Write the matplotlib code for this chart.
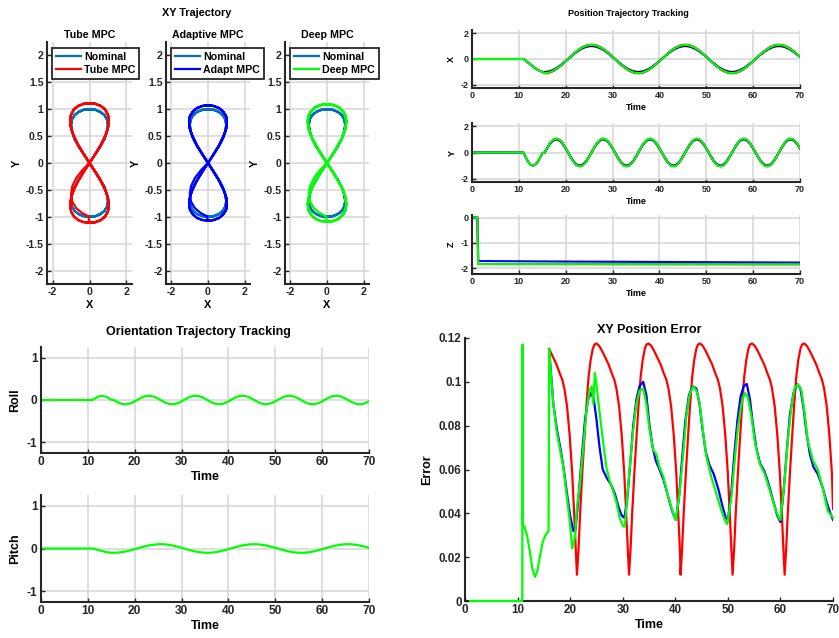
import numpy as np
import matplotlib
matplotlib.use("Agg")
import matplotlib.pyplot as plt
from matplotlib.ticker import FuncFormatter

plt.rcParams['font.family'] = ['Liberation Sans', 'DejaVu Sans']
plt.rcParams['font.weight'] = 'bold'
plt.rcParams['axes.labelweight'] = 'bold'
plt.rcParams['axes.unicode_minus'] = False

# ---------------- data ----------------
# sample times: hover sample at t=0, then every 0.5 s from 11 s to 70 s
t_track = np.concatenate([[0.0], np.arange(11.0, 70.25, 0.5)])   # 120 samples
t_nom = np.arange(15.5, 70.25, 0.5)                                # 110 samples

pos_x_nom = [
    -1.00, -0.99, -0.95, -0.89, -0.81, -0.71, -0.59, -0.45, -0.31, -0.16,
    0.00, 0.16, 0.31, 0.45, 0.59, 0.71, 0.81, 0.89, 0.95, 0.99,
    1.00, 0.99, 0.95, 0.89, 0.81, 0.71, 0.59, 0.45, 0.31, 0.16,
    0.00, -0.16, -0.31, -0.45, -0.59, -0.71, -0.81, -0.89, -0.95, -0.99,
    -1.00, -0.99, -0.95, -0.89, -0.81, -0.71, -0.59, -0.45, -0.31, -0.16,
    0.00, 0.16, 0.31, 0.45, 0.59, 0.71, 0.81, 0.89, 0.95, 0.99,
    1.00, 0.99, 0.95, 0.89, 0.81, 0.71, 0.59, 0.45, 0.31, 0.16,
    0.00, -0.16, -0.31, -0.45, -0.59, -0.71, -0.81, -0.89, -0.95, -0.99,
    -1.00, -0.99, -0.95, -0.89, -0.81, -0.71, -0.59, -0.45, -0.31, -0.16,
    0.00, 0.16, 0.31, 0.45, 0.59, 0.71, 0.81, 0.89, 0.95, 0.99,
    1.00, 0.99, 0.95, 0.89, 0.81, 0.71, 0.59, 0.45, 0.31, 0.16,
]
pos_x_tube = [
    0.00, 0.00, -0.13, -0.28, -0.43, -0.58, -0.72, -0.84, -0.93, -0.99,
    -1.11, -1.10, -1.06, -0.99, -0.90, -0.78, -0.65, -0.50, -0.34, -0.17,
    0.00, 0.17, 0.34, 0.50, 0.65, 0.78, 0.90, 0.99, 1.06, 1.10,
    1.11, 1.10, 1.06, 0.99, 0.90, 0.78, 0.65, 0.50, 0.34, 0.17,
    0.00, -0.17, -0.34, -0.50, -0.65, -0.78, -0.90, -0.99, -1.06, -1.10,
    -1.11, -1.10, -1.06, -0.99, -0.90, -0.78, -0.65, -0.50, -0.34, -0.17,
    0.00, 0.17, 0.34, 0.50, 0.65, 0.78, 0.90, 0.99, 1.06, 1.10,
    1.11, 1.10, 1.06, 0.99, 0.90, 0.78, 0.65, 0.50, 0.34, 0.17,
    0.00, -0.17, -0.34, -0.50, -0.65, -0.78, -0.90, -0.99, -1.06, -1.10,
    -1.11, -1.10, -1.06, -0.99, -0.90, -0.78, -0.65, -0.50, -0.34, -0.17,
    0.00, 0.17, 0.34, 0.50, 0.65, 0.78, 0.90, 0.99, 1.06, 1.10,
    1.11, 1.10, 1.06, 0.99, 0.90, 0.78, 0.65, 0.50, 0.34, 0.17,
]
pos_x_adapt = [
    0.00, 0.00, -0.13, -0.28, -0.43, -0.58, -0.72, -0.84, -0.93, -0.99,
    -1.07, -1.06, -1.02, -0.95, -0.87, -0.76, -0.63, -0.49, -0.33, -0.17,
    0.00, 0.17, 0.33, 0.49, 0.63, 0.76, 0.87, 0.95, 1.02, 1.06,
    1.07, 1.06, 1.02, 0.95, 0.87, 0.76, 0.63, 0.49, 0.33, 0.17,
    0.00, -0.17, -0.33, -0.49, -0.63, -0.76, -0.87, -0.95, -1.02, -1.06,
    -1.07, -1.06, -1.02, -0.95, -0.87, -0.76, -0.63, -0.49, -0.33, -0.17,
    0.00, 0.17, 0.33, 0.49, 0.63, 0.76, 0.87, 0.95, 1.02, 1.06,
    1.07, 1.06, 1.02, 0.95, 0.87, 0.76, 0.63, 0.49, 0.33, 0.17,
    0.00, -0.17, -0.33, -0.49, -0.63, -0.76, -0.87, -0.95, -1.02, -1.06,
    -1.07, -1.06, -1.02, -0.95, -0.87, -0.76, -0.63, -0.49, -0.33, -0.17,
    0.00, 0.17, 0.33, 0.49, 0.63, 0.76, 0.87, 0.95, 1.02, 1.06,
    1.07, 1.06, 1.02, 0.95, 0.87, 0.76, 0.63, 0.49, 0.33, 0.17,
]
pos_x_deep = [
    0.00, 0.00, -0.13, -0.28, -0.43, -0.58, -0.72, -0.84, -0.93, -0.99,
    -1.09, -1.08, -1.04, -0.97, -0.88, -0.77, -0.64, -0.49, -0.34, -0.17,
    0.00, 0.17, 0.34, 0.49, 0.64, 0.77, 0.88, 0.97, 1.04, 1.08,
    1.09, 1.08, 1.04, 0.97, 0.88, 0.77, 0.64, 0.49, 0.34, 0.17,
    0.00, -0.17, -0.34, -0.49, -0.64, -0.77, -0.88, -0.97, -1.04, -1.08,
    -1.09, -1.08, -1.04, -0.97, -0.88, -0.77, -0.64, -0.49, -0.34, -0.17,
    0.00, 0.17, 0.34, 0.49, 0.64, 0.77, 0.88, 0.97, 1.04, 1.08,
    1.09, 1.08, 1.04, 0.97, 0.88, 0.77, 0.64, 0.49, 0.34, 0.17,
    0.00, -0.17, -0.34, -0.49, -0.64, -0.77, -0.88, -0.97, -1.04, -1.08,
    -1.09, -1.08, -1.04, -0.97, -0.88, -0.77, -0.64, -0.49, -0.34, -0.17,
    0.00, 0.17, 0.34, 0.49, 0.64, 0.77, 0.88, 0.97, 1.04, 1.08,
    1.09, 1.08, 1.04, 0.97, 0.88, 0.77, 0.64, 0.49, 0.34, 0.17,
]

pos_y_nom = [
    0.00, 0.31, 0.59, 0.81, 0.95, 1.00, 0.95, 0.81, 0.59, 0.31,
    0.00, -0.31, -0.59, -0.81, -0.95, -1.00, -0.95, -0.81, -0.59, -0.31,
    0.00, 0.31, 0.59, 0.81, 0.95, 1.00, 0.95, 0.81, 0.59, 0.31,
    0.00, -0.31, -0.59, -0.81, -0.95, -1.00, -0.95, -0.81, -0.59, -0.31,
    0.00, 0.31, 0.59, 0.81, 0.95, 1.00, 0.95, 0.81, 0.59, 0.31,
    0.00, -0.31, -0.59, -0.81, -0.95, -1.00, -0.95, -0.81, -0.59, -0.31,
    0.00, 0.31, 0.59, 0.81, 0.95, 1.00, 0.95, 0.81, 0.59, 0.31,
    0.00, -0.31, -0.59, -0.81, -0.95, -1.00, -0.95, -0.81, -0.59, -0.31,
    0.00, 0.31, 0.59, 0.81, 0.95, 1.00, 0.95, 0.81, 0.59, 0.31,
    0.00, -0.31, -0.59, -0.81, -0.95, -1.00, -0.95, -0.81, -0.59, -0.31,
    0.00, 0.31, 0.59, 0.81, 0.95, 1.00, 0.95, 0.81, 0.59, 0.31,
]
pos_y_tube = [
    0.00, 0.00, -0.38, -0.72, -0.93, -1.00, -0.93, -0.72, -0.40, -0.06,
    0.00, 0.32, 0.62, 0.85, 1.00, 1.05, 1.00, 0.85, 0.62, 0.32,
    0.00, -0.32, -0.62, -0.85, -1.00, -1.05, -1.00, -0.85, -0.62, -0.32,
    0.00, 0.32, 0.62, 0.85, 1.00, 1.05, 1.00, 0.85, 0.62, 0.32,
    0.00, -0.32, -0.62, -0.85, -1.00, -1.05, -1.00, -0.85, -0.62, -0.32,
    0.00, 0.32, 0.62, 0.85, 1.00, 1.05, 1.00, 0.85, 0.62, 0.32,
    0.00, -0.32, -0.62, -0.85, -1.00, -1.05, -1.00, -0.85, -0.62, -0.32,
    0.00, 0.32, 0.62, 0.85, 1.00, 1.05, 1.00, 0.85, 0.62, 0.32,
    0.00, -0.32, -0.62, -0.85, -1.00, -1.05, -1.00, -0.85, -0.62, -0.32,
    0.00, 0.32, 0.62, 0.85, 1.00, 1.05, 1.00, 0.85, 0.62, 0.32,
    0.00, -0.32, -0.62, -0.85, -1.00, -1.05, -1.00, -0.85, -0.62, -0.32,
    0.00, 0.32, 0.62, 0.85, 1.00, 1.05, 1.00, 0.85, 0.62, 0.32,
]
pos_y_adapt = [
    0.00, 0.00, -0.38, -0.72, -0.93, -1.00, -0.93, -0.72, -0.40, -0.06,
    0.00, 0.32, 0.61, 0.84, 0.99, 1.04, 0.99, 0.84, 0.61, 0.32,
    0.00, -0.32, -0.61, -0.84, -0.99, -1.04, -0.99, -0.84, -0.61, -0.32,
    0.00, 0.32, 0.61, 0.84, 0.99, 1.04, 0.99, 0.84, 0.61, 0.32,
    0.00, -0.32, -0.61, -0.84, -0.99, -1.04, -0.99, -0.84, -0.61, -0.32,
    0.00, 0.32, 0.61, 0.84, 0.99, 1.04, 0.99, 0.84, 0.61, 0.32,
    0.00, -0.32, -0.61, -0.84, -0.99, -1.04, -0.99, -0.84, -0.61, -0.32,
    0.00, 0.32, 0.61, 0.84, 0.99, 1.04, 0.99, 0.84, 0.61, 0.32,
    0.00, -0.32, -0.61, -0.84, -0.99, -1.04, -0.99, -0.84, -0.61, -0.32,
    0.00, 0.32, 0.61, 0.84, 0.99, 1.04, 0.99, 0.84, 0.61, 0.32,
    0.00, -0.32, -0.61, -0.84, -0.99, -1.04, -0.99, -0.84, -0.61, -0.32,
    0.00, 0.32, 0.61, 0.84, 0.99, 1.04, 0.99, 0.84, 0.61, 0.32,
]
pos_y_deep = [
    0.00, 0.00, -0.38, -0.72, -0.93, -1.00, -0.93, -0.72, -0.40, -0.06,
    0.00, 0.33, 0.62, 0.86, 1.01, 1.06, 1.01, 0.86, 0.62, 0.33,
    0.00, -0.33, -0.62, -0.86, -1.01, -1.06, -1.01, -0.86, -0.62, -0.33,
    0.00, 0.33, 0.62, 0.86, 1.01, 1.06, 1.01, 0.86, 0.62, 0.33,
    0.00, -0.33, -0.62, -0.86, -1.01, -1.06, -1.01, -0.86, -0.62, -0.33,
    0.00, 0.33, 0.62, 0.86, 1.01, 1.06, 1.01, 0.86, 0.62, 0.33,
    0.00, -0.33, -0.62, -0.86, -1.01, -1.06, -1.01, -0.86, -0.62, -0.33,
    0.00, 0.33, 0.62, 0.86, 1.01, 1.06, 1.01, 0.86, 0.62, 0.33,
    0.00, -0.33, -0.62, -0.86, -1.01, -1.06, -1.01, -0.86, -0.62, -0.33,
    0.00, 0.33, 0.62, 0.86, 1.01, 1.06, 1.01, 0.86, 0.62, 0.33,
    0.00, -0.33, -0.62, -0.86, -1.01, -1.06, -1.01, -0.86, -0.62, -0.33,
    0.00, 0.33, 0.62, 0.86, 1.01, 1.06, 1.01, 0.86, 0.62, 0.33,
]

# altitude (sparse samples)
z_t_tube = [0.0, 1.15, 1.3, 70.0]
z_tube = [0.0, 0.0, -1.83, -1.84]
z_t_adapt = [0.0, 1.15, 1.35, 20.0, 45.0, 70.0]
z_adapt = [0.0, 0.0, -1.71, -1.73, -1.75, -1.77]
z_t_deep = [0.0, 1.15, 1.3, 70.0]
z_deep = [0.0, 0.0, -1.83, -1.84]

roll_deep = [
    0.000, 0.000, 0.036, 0.069, 0.089, 0.095, 0.089, 0.069, 0.038, 0.006,
    0.000, -0.031, -0.059, -0.081, -0.095, -0.100, -0.095, -0.081, -0.059, -0.031,
    0.000, 0.031, 0.059, 0.081, 0.095, 0.100, 0.095, 0.081, 0.059, 0.031,
    0.000, -0.031, -0.059, -0.081, -0.095, -0.100, -0.095, -0.081, -0.059, -0.031,
    0.000, 0.031, 0.059, 0.081, 0.095, 0.100, 0.095, 0.081, 0.059, 0.031,
    0.000, -0.031, -0.059, -0.081, -0.095, -0.100, -0.095, -0.081, -0.059, -0.031,
    0.000, 0.031, 0.059, 0.081, 0.095, 0.100, 0.095, 0.081, 0.059, 0.031,
    0.000, -0.031, -0.059, -0.081, -0.095, -0.100, -0.095, -0.081, -0.059, -0.031,
    0.000, 0.031, 0.059, 0.081, 0.095, 0.100, 0.095, 0.081, 0.059, 0.031,
    0.000, -0.031, -0.059, -0.081, -0.095, -0.100, -0.095, -0.081, -0.059, -0.031,
    0.000, 0.031, 0.059, 0.081, 0.095, 0.100, 0.095, 0.081, 0.059, 0.031,
    0.000, -0.031, -0.059, -0.081, -0.095, -0.100, -0.095, -0.081, -0.059, -0.031,
]
pitch_deep = [
    0.000, 0.000, -0.013, -0.028, -0.043, -0.058, -0.072, -0.084, -0.093, -0.099,
    -0.100, -0.099, -0.095, -0.089, -0.081, -0.071, -0.059, -0.045, -0.031, -0.016,
    0.000, 0.016, 0.031, 0.045, 0.059, 0.071, 0.081, 0.089, 0.095, 0.099,
    0.100, 0.099, 0.095, 0.089, 0.081, 0.071, 0.059, 0.045, 0.031, 0.016,
    0.000, -0.016, -0.031, -0.045, -0.059, -0.071, -0.081, -0.089, -0.095, -0.099,
    -0.100, -0.099, -0.095, -0.089, -0.081, -0.071, -0.059, -0.045, -0.031, -0.016,
    0.000, 0.016, 0.031, 0.045, 0.059, 0.071, 0.081, 0.089, 0.095, 0.099,
    0.100, 0.099, 0.095, 0.089, 0.081, 0.071, 0.059, 0.045, 0.031, 0.016,
    0.000, -0.016, -0.031, -0.045, -0.059, -0.071, -0.081, -0.089, -0.095, -0.099,
    -0.100, -0.099, -0.095, -0.089, -0.081, -0.071, -0.059, -0.045, -0.031, -0.016,
    0.000, 0.016, 0.031, 0.045, 0.059, 0.071, 0.081, 0.089, 0.095, 0.099,
    0.100, 0.099, 0.095, 0.089, 0.081, 0.071, 0.059, 0.045, 0.031, 0.016,
]

# XY position error
err_t_tube = [
    16.0, 16.2, 16.8, 17.4, 18.0, 18.5, 18.9, 19.4, 19.9, 20.4, 20.8, 21.1,
    21.3, 21.6, 21.9, 22.3, 22.7, 23.1, 23.5, 23.9, 24.3, 24.6, 25.0, 25.5,
    26.1, 26.7, 27.3, 27.9, 28.4, 28.8, 29.3, 29.8, 30.3, 30.7, 31.0,
    31.2, 31.5, 31.8, 32.2, 32.6, 33.0, 33.4, 33.8, 34.2, 34.5, 34.9, 35.4,
    36.0, 36.6, 37.2, 37.8, 38.3, 38.7, 39.2, 39.7, 40.2, 40.6, 40.9,
    41.0, 41.3, 41.6, 42.0, 42.4, 42.8, 43.2, 43.6, 44.0, 44.3, 44.7, 45.2,
    45.8, 46.4, 47.0, 47.6, 48.1, 48.5, 49.0, 49.5, 50.0, 50.4, 50.7,
    50.9, 51.2, 51.5, 51.9, 52.3, 52.7, 53.1, 53.5, 53.9, 54.2, 54.6, 55.1,
    55.7, 56.3, 56.9, 57.5, 58.0, 58.4, 58.9, 59.4, 59.9, 60.3, 60.6,
    60.8, 61.1, 61.4, 61.8, 62.2, 62.6, 63.0, 63.4, 63.8, 64.1, 64.5, 65.0,
    65.6, 66.2, 66.8, 67.4, 67.9, 68.3, 68.8, 69.3, 69.8, 70.0,
]
err_tube = [
    0.115, 0.114, 0.111, 0.108, 0.104, 0.101, 0.097, 0.089, 0.076, 0.058, 0.038, 0.022,
    0.012, 0.024, 0.040, 0.058, 0.074, 0.089, 0.102, 0.110, 0.115, 0.117, 0.1175, 0.1165,
    0.114, 0.111, 0.108, 0.104, 0.101, 0.097, 0.089, 0.076, 0.058, 0.038, 0.022,
    0.012, 0.024, 0.040, 0.058, 0.074, 0.089, 0.102, 0.110, 0.115, 0.117, 0.1175, 0.1165,
    0.114, 0.111, 0.108, 0.104, 0.101, 0.097, 0.089, 0.076, 0.058, 0.038, 0.022,
    0.012, 0.024, 0.040, 0.058, 0.074, 0.089, 0.102, 0.110, 0.115, 0.117, 0.1175, 0.1165,
    0.114, 0.111, 0.108, 0.104, 0.101, 0.097, 0.089, 0.076, 0.058, 0.038, 0.022,
    0.012, 0.024, 0.040, 0.058, 0.074, 0.089, 0.102, 0.110, 0.115, 0.117, 0.1175, 0.1165,
    0.114, 0.111, 0.108, 0.104, 0.101, 0.097, 0.089, 0.076, 0.058, 0.038, 0.022,
    0.012, 0.024, 0.040, 0.058, 0.074, 0.089, 0.102, 0.110, 0.115, 0.117, 0.1175, 0.1165,
    0.114, 0.111, 0.108, 0.104, 0.101, 0.097, 0.089, 0.076, 0.058, 0.042,
]
err_t_adapt = [
    16.0, 16.8, 17.5, 18.2, 18.8, 19.4, 20.0, 20.6, 21.0, 21.5,
    22.2, 22.8, 23.4, 24.0, 24.5, 25.0, 25.6, 26.2, 27.0, 27.8,
    28.5, 29.2, 29.8, 30.3, 30.8, 31.4, 32.0, 32.6, 33.2, 33.9,
    34.5, 35.1, 35.7, 36.3, 37.0, 37.8, 38.6, 39.4, 40.1, 40.7,
    41.3, 41.9, 42.6, 43.3, 44.0, 44.6, 45.2, 45.8, 46.5, 47.3,
    48.2, 49.0, 49.6, 50.0, 50.6, 51.2, 51.8, 52.4, 53.0, 53.6,
    54.2, 54.8, 55.4, 56.1, 57.0, 57.8, 58.7, 59.4, 60.0, 60.6,
    61.2, 61.8, 62.5, 63.2, 63.8, 64.4, 65.0, 65.6, 66.3, 67.1,
    68.0, 68.8, 69.5, 70.0,
]
err_adapt = [
    0.115, 0.090, 0.078, 0.069, 0.060, 0.049, 0.039, 0.032, 0.032, 0.045,
    0.065, 0.082, 0.092, 0.095, 0.092, 0.083, 0.070, 0.060, 0.056, 0.053,
    0.049, 0.043, 0.039, 0.038, 0.045, 0.062, 0.080, 0.092, 0.098, 0.100,
    0.094, 0.080, 0.070, 0.064, 0.060, 0.055, 0.048, 0.041, 0.037, 0.047,
    0.065, 0.082, 0.094, 0.098, 0.097, 0.090, 0.078, 0.068, 0.062, 0.058,
    0.051, 0.043, 0.038, 0.037, 0.048, 0.066, 0.082, 0.093, 0.098, 0.099,
    0.092, 0.080, 0.070, 0.063, 0.059, 0.053, 0.045, 0.039, 0.036, 0.050,
    0.068, 0.085, 0.095, 0.099, 0.097, 0.088, 0.076, 0.067, 0.061, 0.058,
    0.052, 0.045, 0.040, 0.037,
]
err_t_deep = [
    1.0, 10.9, 10.95, 11.0,
    11.3, 11.8, 12.3, 12.8, 13.3, 13.8, 14.3, 14.8, 15.3, 15.9,
    16.0, 16.3, 16.8, 17.4, 18.0, 18.7, 19.3, 19.9, 20.4, 20.9,
    21.3, 21.8, 22.5, 23.1, 23.7, 24.1, 24.4, 24.7, 25.0, 25.6,
    26.3, 26.9, 27.5, 28.2, 28.8, 29.4, 30.1, 30.4, 30.7, 31.3,
    32.0, 32.6, 33.2, 33.9, 34.5, 35.1, 35.8, 36.4, 37.0, 37.7,
    38.6, 39.6, 40.1, 40.8, 41.5, 42.1, 42.7, 43.4, 44.0, 44.6,
    45.3, 45.9, 46.8, 47.8, 48.8, 49.4, 49.9, 50.7, 51.3, 51.9,
    52.6, 53.2, 53.8, 54.5, 55.1, 56.0, 57.0, 57.9, 58.9, 59.7,
    60.0, 60.8, 61.4, 62.1, 62.7, 63.3, 64.0, 64.6, 65.2, 66.2,
    67.1, 68.1, 69.0, 70.0,
]
err_deep = [
    0.0, 0.0, 0.117, 0.035,
    0.034, 0.030, 0.023, 0.015, 0.011, 0.014, 0.021, 0.027, 0.030, 0.032,
    0.115, 0.105, 0.090, 0.078, 0.070, 0.061, 0.049, 0.037, 0.024, 0.029,
    0.043, 0.052, 0.070, 0.087, 0.096, 0.098, 0.090, 0.104, 0.099, 0.086,
    0.072, 0.061, 0.055, 0.050, 0.045, 0.038, 0.034, 0.034, 0.043, 0.060,
    0.078, 0.090, 0.096, 0.097, 0.090, 0.078, 0.069, 0.067, 0.061, 0.057,
    0.048, 0.040, 0.037, 0.049, 0.067, 0.084, 0.094, 0.098, 0.096, 0.091,
    0.077, 0.066, 0.057, 0.049, 0.041, 0.037, 0.035, 0.048, 0.064, 0.079,
    0.090, 0.095, 0.093, 0.084, 0.073, 0.063, 0.058, 0.051, 0.043, 0.038,
    0.037, 0.055, 0.073, 0.089, 0.097, 0.099, 0.096, 0.086, 0.073, 0.064,
    0.060, 0.051, 0.041, 0.038,
]

C_NOM = '#0072bd'
C_TUBE = '#ff0000'
C_ADAPT = '#0000ff'
C_DEEP = '#00ff00'
C_TXT = '#262626'

# ---------------- figure ----------------
W, H = 839, 638
fig = plt.figure(figsize=(W / 100, H / 100), dpi=100)


def rect(l, t, r, b):
    return [l / W, 1 - b / H, (r - l) / W, (b - t) / H]


fmt = FuncFormatter(lambda v, p: '%g' % (round(v, 6) + 0.0))


def style(ax, fs, grid=True):
    for s in ('top', 'right'):
        ax.spines[s].set_visible(False)
    for s in ('left', 'bottom'):
        ax.spines[s].set_linewidth(1.5)
        ax.spines[s].set_color(C_TXT)
    ax.tick_params(direction='in', length=3, width=1.0, labelsize=fs,
                   colors=C_TXT, pad=2.5)
    if grid:
        ax.grid(True, color='#d9d9d9', lw=1.2)
    ax.set_axisbelow(True)
    ax.xaxis.set_major_formatter(fmt)
    ax.yaxis.set_major_formatter(fmt)


def ftext(x, y, s, fs):
    fig.text(x / W, 1 - y / H, s, ha='center', va='center', fontsize=fs,
             fontweight='bold', color='black')


# ---- XY trajectory ----
ftext(197, 13, 'XY Trajectory', 7.8)
xy_specs = [
    ('Tube MPC', 'Tube MPC', C_TUBE, pos_y_tube, pos_x_tube, 47, 132),
    ('Adaptive MPC', 'Adapt MPC', C_ADAPT, pos_y_adapt, pos_x_adapt, 166, 250),
    ('Deep MPC', 'Deep MPC', C_DEEP, pos_y_deep, pos_x_deep, 285, 369),
]
for title, lab, col, hx, vy, l, r in xy_specs:
    ax = fig.add_axes(rect(l, 42, r, 284))
    ax.plot(pos_y_nom, pos_x_nom, color=C_NOM, lw=1.6, label='Nominal')
    ax.plot(hx, vy, color=col, lw=1.6, label=lab)
    ax.set_xlim(-2.3, 2.3)
    ax.set_ylim(-2.25, 2.25)
    ax.set_xticks([-2, 0, 2])
    ax.set_yticks(np.arange(-2, 2.01, 0.5))
    style(ax, 7.6)
    ax.set_xlabel('X', fontsize=7.8, labelpad=2)
    ax.set_ylabel('Y', fontsize=7.8, labelpad=3)
    leg = ax.legend(loc='upper left',
                    bbox_to_anchor=(5 / (r - l), 1 - 6 / 242),
                    bbox_transform=ax.transAxes,
                    fontsize=7.7, handlelength=2.4, handletextpad=0.25,
                    borderpad=0.35, borderaxespad=0, labelspacing=0.3,
                    fancybox=False, framealpha=1)
    leg.get_frame().set_edgecolor(C_TXT)
    leg.get_frame().set_linewidth(1.3)
    for tx in leg.get_texts():
        tx.set_fontweight('bold')
    ftext((l + r) / 2, 35, title, 7.7)

# ---- Position tracking ----
ftext(628, 14, 'Position Trajectory Tracking', 6.5)
pos_specs = [
    ('X', pos_x_nom, pos_x_tube, pos_x_adapt, pos_x_deep, 30, 88),
    ('Y', pos_y_nom, pos_y_tube, pos_y_adapt, pos_y_deep, 123, 182),
]
for lab, nom, tube, adapt, deep, t0, b0 in pos_specs:
    ax = fig.add_axes(rect(472, t0, 800, b0))
    ax.plot(t_nom, nom, color='black', lw=1.5)
    ax.plot(t_track, tube, color=C_TUBE, lw=1.5)
    ax.plot(t_track, adapt, color=C_ADAPT, lw=1.5)
    ax.plot(t_track, deep, color=C_DEEP, lw=1.5)
    ax.set_xlim(0, 70)
    ax.set_ylim(-2.25, 2.25)
    ax.set_xticks(np.arange(0, 71, 10))
    ax.set_yticks([-2, 0, 2])
    style(ax, 6.5)
    ax.set_xlabel('Time', fontsize=6.5, labelpad=2)
    ax.set_ylabel(lab, fontsize=6.5, labelpad=3)

ax = fig.add_axes(rect(472, 215, 800, 274))
ax.plot(z_t_tube, z_tube, color=C_TUBE, lw=1.5)
ax.plot(z_t_adapt, z_adapt, color=C_ADAPT, lw=1.5)
ax.plot(z_t_deep, z_deep, color=C_DEEP, lw=1.5)
ax.set_xlim(0, 70)
ax.set_ylim(-2.22, 0.1)
ax.set_xticks(np.arange(0, 71, 10))
ax.set_yticks([-2, -1, 0])
style(ax, 6.5)
ax.set_xlabel('Time', fontsize=6.5, labelpad=2)
ax.set_ylabel('Z', fontsize=6.5, labelpad=3)

# ---- Orientation tracking ----
ftext(198, 332, 'Orientation Trajectory Tracking', 9)
for lab, vals, t0, b0 in [('Roll', roll_deep, 347, 453),
                          ('Pitch', pitch_deep, 495, 602)]:
    ax = fig.add_axes(rect(41, t0, 369, b0))
    ax.plot(t_track, vals, color=C_DEEP, lw=1.6)
    ax.set_xlim(0, 70)
    ax.set_ylim(-1.25, 1.25)
    ax.set_xticks(np.arange(0, 71, 10))
    ax.set_yticks([-1, 0, 1])
    style(ax, 8.6)
    ax.set_xlabel('Time', fontsize=9, labelpad=2)
    ax.set_ylabel(lab, fontsize=9, labelpad=4)

# ---- XY position error ----
ax = fig.add_axes(rect(465, 338, 833, 601))
ax.plot(err_t_tube, err_tube, color=C_TUBE, lw=1.6)
ax.plot(err_t_adapt, err_adapt, color=C_ADAPT, lw=1.6)
ax.plot(err_t_deep, err_deep, color=C_DEEP, lw=1.6, clip_on=False, zorder=5)
ax.set_xlim(0, 70)
ax.set_ylim(0, 0.12)
ax.set_xticks(np.arange(0, 71, 10))
ax.set_yticks(np.arange(0, 0.121, 0.02))
style(ax, 8.4, grid=False)
ax.set_xlabel('Time', fontsize=9, labelpad=2)
ax.set_ylabel('Error', fontsize=9, labelpad=4)
ftext(649, 330, 'XY Position Error', 9.1)

fig.savefig('out.png', dpi=100)
